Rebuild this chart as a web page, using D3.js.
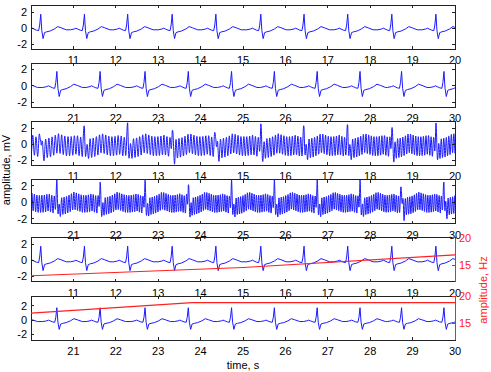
<!DOCTYPE html>
<html>
<head>
<meta charset="utf-8">
<script src="https://cdn.jsdelivr.net/npm/d3@7"></script>
<style>
  body { margin: 0; background: #fff; }
  text { font-family: "Liberation Sans", Arial, sans-serif; font-size: 11px; }
</style>
</head>
<body>
<div id="chart"></div>
<script>
// R-peak times (s)
const beatTimes = [10.23, 11.26, 12.28, 13.33, 14.36, 15.42, 16.44, 17.47, 18.51, 19.55,
                   20.61, 21.63, 22.69, 23.71, 24.73, 25.74, 26.75, 27.76, 28.74, 29.74];
// one beat, offsets from the R peak (s) and amplitude (mV)
const tmplT = [-0.33, -0.24, -0.2, -0.16, -0.1, -0.05, -0.025, 0, 0.025, 0.055, 0.09, 0.14, 0.22, 0.32, 0.4, 0.48, 0.6];
const tmplV = [-0.2, -0.1, 0.0, -0.1, -0.25, -0.3, 0.4, 1.75, -0.3, -1.3, -0.55, -0.45, -0.35, -0.1, 0.2, 0.05, -0.2];
// tracked interference frequency (red line), knots
const freqT = [10, 15, 20, 23.8, 30];
const freqHz = [13.1, 14.6, 16.9, 18.8, 18.8];
// interference amplitude in the noisy panels
const noiseAmp = [1.2, 1.05];

const panelRanges = [[10, 20], [20, 30], [10, 20], [20, 30], [10, 20], [20, 30]];
const panelKind = ["clean", "clean", "noisy", "noisy", "clean", "clean"];
const yDomains = [[-2.6, 2.9], [-2.6, 2.75], [-2.6, 2.9], [-2.6, 2.75], [-2.7, 2.8], [-2.8, 3.4]];
const yTicks = [-2, 0, 2];
const freqDomain = [12, 20];
const freqTicks = [15, 20];

const W = 491, H = 372;
const left = 31, right = 455, ph = 44;

const svg = d3.select("#chart").append("svg")
  .attr("width", W).attr("height", H);

// build clean ecg vertices
let ecg = [];
beatTimes.forEach(b => {
  tmplT.forEach((dt, i) => ecg.push({t: b + dt, v: tmplV[i]}));
});

const ecgAt = (t) => {
  let i = d3.bisector(d => d.t).left(ecg, t);
  if (i <= 0) return ecg[0].v;
  if (i >= ecg.length) return ecg[ecg.length - 1].v;
  let a = ecg[i - 1], b = ecg[i];
  return a.v + (b.v - a.v) * (t - a.t) / (b.t - a.t);
};
const freqAt = d3.scaleLinear().domain(freqT).range(freqHz).clamp(true);

const fs = 300;
const noisy = (t0, t1, amp) => {
  let out = [];
  let phase = 0;
  for (let k = 0; k <= (t1 - t0) * fs; k++) {
    let t = t0 + k / fs;
    phase += 2 * Math.PI * freqAt(t) / fs;
    out.push({t: t, v: ecgAt(t) + amp * Math.sin(phase)});
  }
  return out;
};

panelRanges.forEach((rng, i) => {
  const top = 5 + i * 58.2;
  const x = d3.scaleLinear().domain(rng).range([left, right]);
  const y = d3.scaleLinear().domain(yDomains[i]).range([top + ph, top]);
  const g = svg.append("g");

  g.append("clipPath").attr("id", "clip" + i)
    .append("rect").attr("x", left).attr("y", top).attr("width", right - left).attr("height", ph);

  let data = panelKind[i] === "clean"
    ? ecg
    : noisy(rng[0] - 0.05, rng[1] + 0.05, noiseAmp[i - 2]);

  const line = d3.line().x(d => x(d.t)).y(d => y(d.v));

  g.append("path")
    .attr("clip-path", "url(#clip" + i + ")")
    .attr("d", line(data))
    .style("fill", "none")
    .style("stroke", "#1a1aff")
    .style("stroke-width", 1);

  const xTickVals = d3.range(rng[0] + 1, rng[1] + 1);

  // frame
  g.append("rect")
    .attr("x", left).attr("y", top).attr("width", right - left).attr("height", ph)
    .style("fill", "none").style("stroke", "#222").style("stroke-width", 1)
    .attr("shape-rendering", "crispEdges");

  // x ticks, bottom and top, pointing in
  g.selectAll("line.xb").data(xTickVals).enter().append("line")
    .attr("x1", x).attr("x2", x).attr("y1", top + ph).attr("y2", top + ph - 3)
    .style("stroke", "#222").attr("shape-rendering", "crispEdges");
  g.selectAll("line.xt").data(xTickVals).enter().append("line")
    .attr("x1", x).attr("x2", x).attr("y1", top).attr("y2", top + 3)
    .style("stroke", "#222").attr("shape-rendering", "crispEdges");

  g.selectAll("text.xl").data(xTickVals).enter().append("text")
    .attr("x", x).attr("y", top + ph + 15)
    .attr("text-anchor", "middle")
    .text(d => d);

  // y ticks
  g.selectAll("line.yl").data(yTicks).enter().append("line")
    .attr("x1", left).attr("x2", left + 3).attr("y1", y).attr("y2", y)
    .style("stroke", "#222").attr("shape-rendering", "crispEdges");
  g.selectAll("text.yl").data(yTicks).enter().append("text")
    .attr("x", left - 4).attr("y", y).attr("dy", "0.35em")
    .attr("text-anchor", "end")
    .text(d => d);

  if (i >= 4) {
    // right axis: tracked frequency
    const yf = d3.scaleLinear().domain(freqDomain).range([top + ph, top]);
    const fLine = d3.line().x(d => x(d[0])).y(d => yf(d[1]));
    const fData = freqT.map((t, k) => [t, freqHz[k]]);
    g.append("path")
      .attr("clip-path", "url(#clip" + i + ")")
      .attr("d", fLine(fData))
      .style("fill", "none").style("stroke", "#ff2020").style("stroke-width", 1.2);
    g.append("line")
      .attr("x1", right).attr("x2", right).attr("y1", top).attr("y2", top + ph)
      .style("stroke", "#ff2020").attr("shape-rendering", "crispEdges");
    g.selectAll("line.yr").data(freqTicks).enter().append("line")
      .attr("x1", right).attr("x2", right - 3).attr("y1", yf).attr("y2", yf)
      .style("stroke", "#ff2020").attr("shape-rendering", "crispEdges");
    g.selectAll("text.yr").data(freqTicks).enter().append("text")
      .attr("x", right + 4).attr("y", yf).attr("dy", "0.35em")
      .style("fill", "#ff2020")
      .text(d => d);
  } else {
    g.selectAll("line.yr").data(yTicks).enter().append("line")
      .attr("x1", right).attr("x2", right - 3).attr("y1", y).attr("y2", y)
      .style("stroke", "#222").attr("shape-rendering", "crispEdges");
  }
});

svg.append("text")
  .attr("transform", "translate(10,170) rotate(-90)")
  .attr("text-anchor", "middle")
  .text("amplitude, mV");

svg.append("text")
  .attr("transform", "translate(487,290) rotate(-90)")
  .attr("text-anchor", "middle")
  .style("fill", "#ff2020")
  .text("amplitude, Hz");

svg.append("text")
  .attr("x", 243).attr("y", 369)
  .attr("text-anchor", "middle")
  .text("time, s");
</script>
</body>
</html>
